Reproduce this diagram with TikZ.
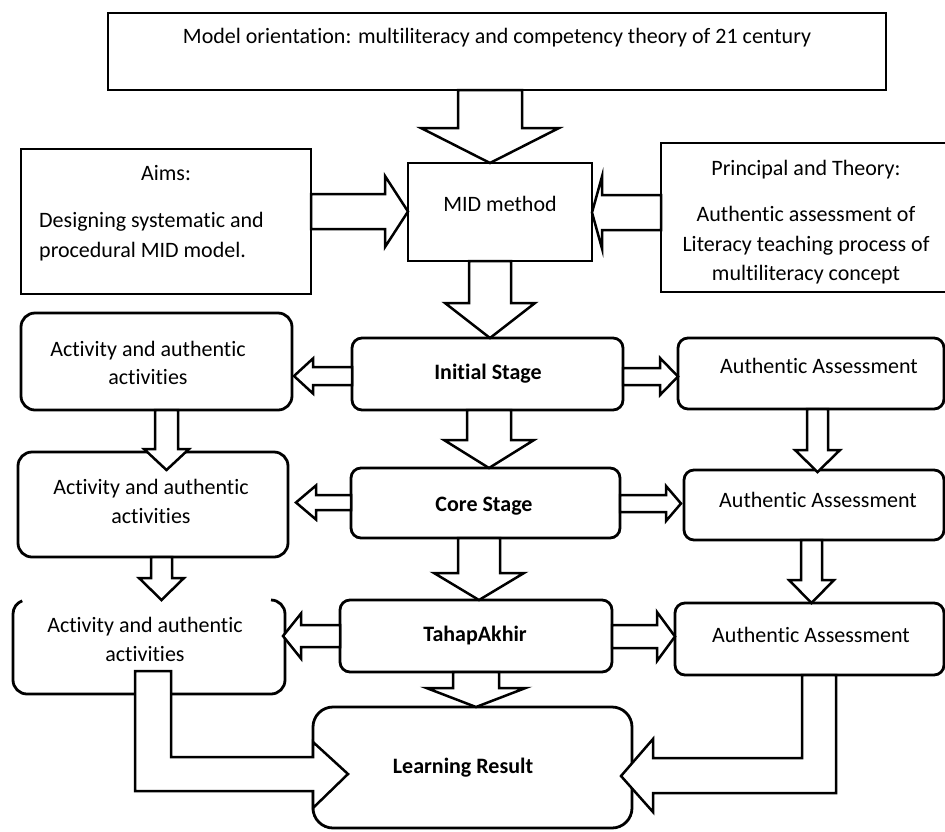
\documentclass[tikz,border=0pt]{standalone}
\usepackage{fontspec}
\setmainfont[Ligatures=NoCommon]{Carlito}
\usetikzlibrary{calc}
\tikzset{
 box/.style={draw, line width=2.8pt, inner sep=0pt, outer sep=0pt},
 rbox/.style={box, rounded corners=10pt},
 abox/.style={box, rounded corners=14pt},
 ghost/.style={inner sep=0pt, outer sep=0pt},
 txt/.style={anchor=base, inner sep=0pt, font=\fontsize{22pt}{30pt}\selectfont},
 btxt/.style={txt, font=\fontsize{22pt}{30pt}\selectfont\bfseries},
 blk/.style={draw, fill=white, line width=2.5pt, line join=miter},
}
% down block arrow: from, to, shaft cx, shaft half width, head base y, head half width, overlap of tip into target
\newcommand\DArr[7]{\draw[blk] let \p1=(#1.south), \p2=(#2.north) in
 ({#3-#4},\y1) -- ({#3-#4},-#5) -- ({#3-#6},-#5) -- ({#3},{\y2-(#7)}) -- ({#3+#6},-#5) -- ({#3+#4},-#5) -- ({#3+#4},\y1) -- cycle;}
% right block arrow: from, to, shaft cy, shaft half width, head base x, head half width, overlap
\newcommand\RArr[7]{\draw[blk] let \p1=(#1.east), \p2=(#2.west) in
 (\x1,{-(#3-#4)}) -- ({#5},{-(#3-#4)}) -- ({#5},{-(#3-#6)}) -- ({\x2+(#7)},-#3) -- ({#5},{-(#3+#6)}) -- ({#5},{-(#3+#4)}) -- (\x1,{-(#3+#4)}) -- cycle;}
% left block arrow
\newcommand\LArr[7]{\draw[blk] let \p1=(#1.west), \p2=(#2.east) in
 (\x1,{-(#3-#4)}) -- ({#5},{-(#3-#4)}) -- ({#5},{-(#3-#6)}) -- ({\x2-(#7)},-#3) -- ({#5},{-(#3+#6)}) -- ({#5},{-(#3+#4)}) -- (\x1,{-(#3+#4)}) -- cycle;}
\begin{document}
\begin{tikzpicture}[x=1pt,y=1pt]
\useasboundingbox (0,0) rectangle (945,-831);
\fill[white] (0,0) rectangle (945,-831);
% boxes
\node[box, minimum width=778pt, minimum height=77pt] (top) at (497,-51.5) {};
\node[box, minimum width=184pt, minimum height=98pt] (mid) at (500,-212) {};
\node[box, minimum width=290pt, minimum height=145pt] (aims) at (166,-221.5) {};
\node[box, minimum width=289pt, minimum height=149pt] (princ) at (805.5,-217.5) {};
\node[abox, minimum width=271pt, minimum height=97pt] (act1) at (156.5,-361.5) {};
\node[rbox, minimum width=271pt, minimum height=72pt] (init) at (487.5,-374) {};
\node[rbox, minimum width=266pt, minimum height=71pt] (aa1) at (811,-373.5) {};
\node[abox, minimum width=270pt, minimum height=105pt] (act2) at (153,-504.5) {};
\node[rbox, minimum width=269pt, minimum height=70pt] (core) at (485.5,-503) {};
\node[rbox, minimum width=260pt, minimum height=70pt] (aa2) at (814,-505) {};
\node[ghost, minimum width=272pt, minimum height=94pt] (act3) at (149,-647) {};
\draw[line width=2.8pt] (22.2,-600.8) arc[start angle=110,end angle=180,radius=14] -- (13,-680)
  arc[start angle=180,end angle=270,radius=14] -- (271,-694)
  arc[start angle=270,end angle=360,radius=14] -- (285,-614)
  arc[start angle=0,end angle=90,radius=14];
\node[rbox, minimum width=272pt, minimum height=72pt] (tahap) at (476,-636) {};
\node[rbox, minimum width=269pt, minimum height=72pt] (aa3) at (809.5,-639) {};
\node[box, rounded corners=20pt, minimum width=319pt, minimum height=121pt] (learn) at (472.5,-767.5) {};
% block arrows
\DArr{top}{mid}{490}{32}{128}{69}{0}
\RArr{aims}{mid}{211.5}{17.5}{385}{35.5}{0}
\LArr{princ}{mid}{212.5}{17.5}{602}{36}{0}
\DArr{mid}{init}{490}{21}{303}{45}{0}
\LArr{init}{act1}{376}{9}{313}{17.5}{-2}
\RArr{init}{aa1}{376.5}{8.5}{660}{18.5}{0}
\DArr{act1}{act2}{166.5}{11.5}{449}{22.5}{18}
\DArr{init}{core}{489}{22}{440}{45}{0}
\DArr{aa1}{aa2}{817.5}{10.5}{450}{22.5}{2}
\LArr{core}{act2}{502.5}{7.5}{316}{17}{-8}
\RArr{core}{aa2}{503.5}{8.5}{666}{17.5}{-3}
\DArr{act2}{act3}{161.5}{10.5}{578}{22.5}{0}
\DArr{core}{tahap}{479}{21}{573}{45}{0}
\DArr{aa2}{aa3}{811.5}{10.5}{580}{22.5}{0}
\LArr{tahap}{act3}{636}{11}{301}{22.5}{2}
\RArr{tahap}{aa3}{636.5}{11.5}{657}{24.5}{0}
\DArr{tahap}{learn}{476}{23}{688}{49.5}{0}
\draw[blk] let \p1=(act3.south), \p2=(learn.west) in
  (135,-671) -- (171,-671) -- (171,-757) -- (\x2,-757) -- (\x2,-742) -- ({\x2+35},-774) -- (\x2,-808) -- (\x2,-791) -- (135,-791) -- cycle;
\draw[blk] let \p1=(aa3.south), \p2=(learn.east) in
  (802,\y1) -- (802,-758) -- (653,-758) -- (653,-739) -- ({\x2-11},-776) -- (653,-812) -- (653,-793) -- (836,-793) -- (836,\y1) -- cycle;
% texts
\node[txt] (ttop) at (497,-43) {Model orientation: multiliteracy and competency theory of 21 century};
\node[txt] (tmid) at (500,-211) {MID method};
\node[txt] (taims) at (166,-180) {Aims:};
\node[txt, anchor=base west] (taims2) at (39,-227) {Designing systematic and};
\node[txt, anchor=base west] (taims3) at (39,-257) {procedural MID model.};
\node[txt] (tpr1) at (806,-175) {Principal and Theory:};
\node[txt] (tpr2) at (806,-221) {Authentic assessment of};
\node[txt] (tpr3) at (806,-251) {Literacy teaching process of};
\node[txt] (tpr4) at (806,-280) {multiliteracy concept};
\node[txt] (ta1a) at (148,-356) {Activity and authentic};
\node[txt] (ta1b) at (148,-384) {activities};
\node[btxt] (tinit) at (488,-379) {Initial Stage};
\node[txt] (taa1) at (819,-373) {Authentic Assessment};
\node[txt] (ta2a) at (151,-494) {Activity and authentic};
\node[txt] (ta2b) at (151,-523) {activities};
\node[btxt] (tcore) at (484,-511) {Core Stage};
\node[txt] (taa2) at (818,-507) {Authentic Assessment};
\node[txt] (ta3a) at (145,-632) {Activity and authentic};
\node[txt] (ta3b) at (145,-661) {activities};
\node[btxt] (ttahap) at (475,-641) {TahapAkhir};
\node[txt] (taa3) at (811,-642) {Authentic Assessment};
\node[btxt] (tlearn) at (463,-773) {Learning Result};
\end{tikzpicture}
\end{document}
